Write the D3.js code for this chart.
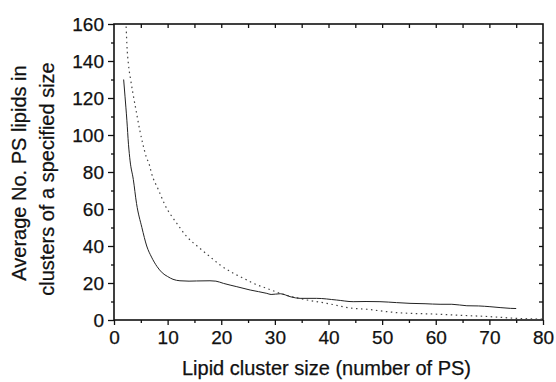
<!DOCTYPE html>
<html>
<head>
<meta charset="utf-8">
<script src="https://cdn.jsdelivr.net/npm/d3@7"></script>
<style>
  html, body { margin: 0; padding: 0; background: #fff; }
  svg { display: block; }
  text { font-family: "Liberation Sans", Arial, sans-serif; fill: #111; stroke: #111; stroke-width: 0.25px; }
</style>
</head>
<body>
<div id="chart"></div>
<script>
// ---- data ----
const sizeSolid = [1.8, 2.05, 2.4, 2.7, 3.0, 3.6, 4.2, 5.2, 6.1, 7, 8, 9, 10, 11, 12.3, 14, 15.4, 17.9, 19, 20.4, 22.9, 25.4, 28.5, 29.3, 31, 33, 34.7, 37.8, 41.5, 44.6, 47, 49.6, 52.7, 55.2, 58, 60.8, 63, 65.8, 68, 70.1, 73.9, 75];
const avgSolid  = [130, 121, 108, 95, 86, 76, 63, 50, 40, 34, 29, 25.5, 23.5, 22, 21.2, 21, 21.1, 21.2, 21, 19.8, 18, 16.2, 14.4, 13.8, 14.2, 12.5, 11.7, 11.7, 10.8, 9.9, 10, 9.9, 9.4, 9, 8.8, 8.5, 8.5, 7.7, 7.6, 7.2, 6.3, 6.2];

const sizeDotted = [2.0, 2.24, 2.4, 2.7, 3.1, 3.5, 4.1, 4.85, 5.35, 6.0, 6.6, 7.0, 8.3, 9.5, 11.7, 13.6, 16, 17.9, 19.8, 22.3, 24.8, 26, 28.5, 31, 36, 39.7, 44.6, 47.1, 50.9, 52.7, 59.6, 65, 70.1, 75.1, 78, 80];
const avgDotted  = [172, 160, 149, 138, 130, 123, 113.5, 102, 95.5, 88.3, 83.8, 79.3, 70.3, 62.2, 52.3, 45, 38.8, 34.2, 29.7, 25.2, 21.6, 19.8, 17.1, 14.4, 10.8, 9, 6.3, 5.8, 4.5, 4, 3.2, 2.5, 1.8, 0.9, 0.6, 0.5];

const xTicks = [0, 10, 20, 30, 40, 50, 60, 70, 80];
const yTicks = [0, 20, 40, 60, 80, 100, 120, 140, 160];
const xTitle = "Lipid cluster size (number of PS)";
const yTitle = ["Average No. PS lipids in", "clusters of a specified size"];

// ---- layout ----
const W = 556, H = 382;
const L = 114, R = 543, T = 24, B = 320;

const svg = d3.select("#chart").append("svg").attr("width", W).attr("height", H);

const x = d3.scaleLinear().domain([0, 80]).range([L, R]);
const y = d3.scaleLinear().domain([0, 160]).range([B, T]);

svg.append("clipPath").attr("id", "clip")
  .append("rect").attr("x", L).attr("y", T).attr("width", R - L).attr("height", B - T);

function styleAxis(g) {
  g.select(".domain").remove();
  g.selectAll(".tick line").attr("stroke", "#111").attr("stroke-width", 1.3);
  g.selectAll(".tick text").style("font-size", "19px").attr("fill", "#111");
}

// left minor
svg.append("g").attr("transform", `translate(${L},0)`)
  .call(d3.axisLeft(y).tickValues(d3.range(10, 160, 20)).tickSize(3).tickFormat(""))
  .call(styleAxis);
// left major
const gl = svg.append("g").attr("transform", `translate(${L},0)`)
  .call(d3.axisLeft(y).tickValues(yTicks).tickSize(6).tickPadding(4).tickFormat(d3.format("d")))
  .call(styleAxis);
gl.selectAll(".tick text").attr("dy", "0.36em");

// bottom minor
svg.append("g").attr("transform", `translate(0,${B})`)
  .call(d3.axisBottom(x).tickValues(d3.range(5, 80, 10)).tickSize(3).tickFormat(""))
  .call(styleAxis);
// bottom major
svg.append("g").attr("transform", `translate(0,${B})`)
  .call(d3.axisBottom(x).tickValues(xTicks).tickSize(5).tickPadding(6).tickFormat(d3.format("d")))
  .call(styleAxis);

// top (inward)
svg.append("g").attr("transform", `translate(0,${T})`)
  .call(d3.axisTop(x).tickValues(d3.range(5, 80, 5)).tickSize(-4).tickFormat(""))
  .call(styleAxis);
// right (inward)
svg.append("g").attr("transform", `translate(${R},0)`)
  .call(d3.axisRight(y).tickValues(d3.range(10, 160, 10)).tickSize(-4).tickFormat(""))
  .call(styleAxis);

// frame
svg.append("rect").attr("x", L).attr("y", T).attr("width", R - L).attr("height", B - T)
  .attr("fill", "none").attr("stroke", "#111").attr("stroke-width", 1.6);

// lines
const line = d3.line().x(d => x(d[0])).y(d => y(d[1])).curve(d3.curveMonotoneX);
const plot = svg.append("g").attr("clip-path", "url(#clip)");

plot.append("path")
  .datum(d3.zip(sizeDotted, avgDotted))
  .attr("d", line)
  .attr("fill", "none").attr("stroke", "#444").attr("stroke-width", 1.2)
  .attr("stroke-dasharray", "1.5,3.5");

plot.append("path")
  .datum(d3.zip(sizeSolid, avgSolid))
  .attr("d", line)
  .attr("fill", "none").attr("stroke", "#222").attr("stroke-width", 1);

// titles
svg.append("text").attr("x", (L + R) / 2 - 2).attr("y", 375)
  .attr("text-anchor", "middle").style("font-size", "20px").text(xTitle);

svg.append("text").attr("transform", `translate(26,173) rotate(-90)`)
  .attr("text-anchor", "middle").style("font-size", "20px").text(yTitle[0]);
svg.append("text").attr("transform", `translate(54,179) rotate(-90)`)
  .attr("text-anchor", "middle").style("font-size", "20px").text(yTitle[1]);
</script>
</body>
</html>
